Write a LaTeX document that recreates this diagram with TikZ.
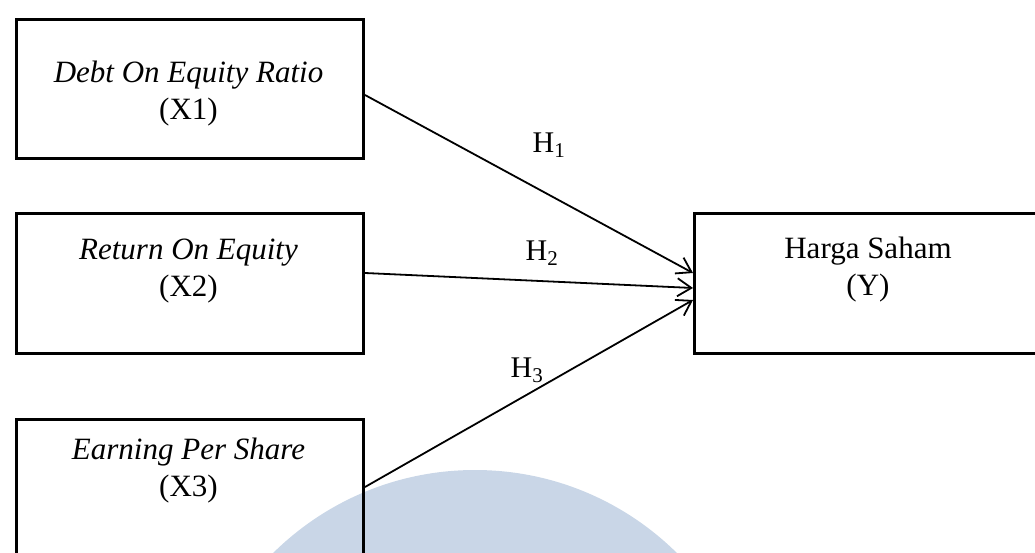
\documentclass[tikz,border=0pt]{standalone}
\usepackage{fontspec}
\setmainfont{Liberation Serif}
\usetikzlibrary{arrows.meta,calc}
\definecolor{wm}{HTML}{C9D6E7}
\begin{document}
\begin{tikzpicture}[x=1pt,y=-1pt,
  box/.style={draw,line width=3pt,minimum width=347pt,minimum height=140pt,inner sep=0pt,anchor=north west},
  lbl/.style={font=\fontsize{31}{37}\selectfont,align=center,inner sep=0pt},
  hyp/.style={font=\fontsize{30}{32}\selectfont,inner sep=0pt},
  arr/.style={line width=1.8pt,-{Straight Barb[length=14pt,width=18pt,line width=1.8pt]}}]
\path[use as bounding box] (0,0) rectangle (1035,553);
\clip (0,0) rectangle (1035,553);
\fill[wm] (475,757) circle[radius=287pt];
\node[box,minimum height=139pt] (x1) at (15,18) {};
\node[box] (x2) at (15,212) {};
\node[box] (x3) at (15,418) {};
\node[box,minimum width=360pt] (y) at (693,212) {};
\node[lbl] (t1) at ($(x1.north west)+(173.5,76)$) {\textit{Debt On Equity Ratio}\\(X1)};
\node[lbl] (t2) at ($(x2.north west)+(173.5,59)$) {\textit{Return On Equity}\\(X2)};
\node[lbl] (t3) at ($(x3.north west)+(173.5,53)$) {\textit{Earning Per Share}\\(X3)};
\node[lbl] (ty) at ($(y.north west)+(175,58)$) {Harga Saham\\(Y)};
\draw[arr] ($(x1.north east)+(0,77)$) -- ($(y.north west)+(0,61)$);
\draw[arr] ($(x2.north east)+(0,61)$) -- ($(y.north west)+(0,76)$);
\draw[arr] ($(x3.north east)+(0,69)$) -- ($(y.north west)+(0,88)$);
\node[hyp] (h1) at (549,145) {H\textsubscript{1}};
\node[hyp] (h2) at (542,253) {H\textsubscript{2}};
\node[hyp] (h3) at (527,370) {H\textsubscript{3}};
\end{tikzpicture}
\end{document}
